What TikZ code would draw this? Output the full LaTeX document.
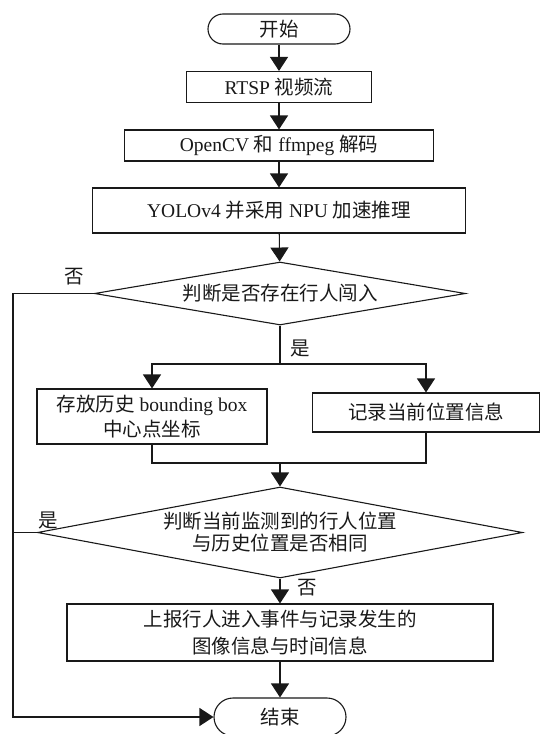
\documentclass[tikz,border=0pt]{standalone}
\usepackage{fontspec}
\setmainfont{Liberation Serif}
\newfontfamily\cjk{Noto Sans CJK SC}
\newcommand\zhtxt[1]{{\cjk #1}}
\usetikzlibrary{arrows.meta,shapes.geometric}
\tikzset{
  lin/.style={line width=1.1pt, draw=black!90},
  arr/.style={lin, -{Triangle[length=14pt,width=18pt]}},
  txt/.style={font=\fontsize{19.5pt}{25pt}\selectfont, text=black!90},
  procbox/.style={txt, draw=black!90, line width=1.1pt, inner sep=0pt, align=center},
  termbox/.style={procbox, rounded corners=#1},
  decision/.style={txt, draw=black!90, line width=1.1pt, diamond, inner sep=0pt, align=center},
  lbl/.style={txt, inner sep=0pt}
}
\begin{document}
\begin{tikzpicture}[x=1pt,y=-1pt]
\useasboundingbox (0,0) rectangle (541,734);
% nodes
\node[termbox=15pt, minimum width=142pt, minimum height=30pt] (start) at (279,29) {\zhtxt{开始}};
\node[procbox, minimum width=185pt, minimum height=31pt] (rtsp) at (279,87) {RTSP \zhtxt{视频流}};
\node[procbox, minimum width=309pt, minimum height=31pt] (dec) at (279,145.5) {OpenCV \zhtxt{和} ffmpeg \zhtxt{解码}};
\node[procbox, minimum width=373pt, minimum height=45pt] (yolo) at (279,210.5) {YOLOv4 \zhtxt{并采用} NPU \zhtxt{加速推理}};
\node[decision, shape aspect=5.9, minimum width=371pt, minimum height=63pt] (d1) at (280,293.5) {\zhtxt{判断是否存在行人闯入}};
\node[procbox, minimum width=230pt, minimum height=55pt] (hist) at (152,416.5) {\zhtxt{存放历史} bounding box\\\zhtxt{中心点坐标}};
\node[procbox, minimum width=227pt, minimum height=39pt] (cur) at (426,412.5) {\zhtxt{记录当前位置信息}};
\node[decision, shape aspect=5.33, minimum width=485pt, minimum height=91pt] (d2) at (280,532.5) {\zhtxt{判断当前监测到的行人位置}\\[-3pt]\zhtxt{与历史位置是否相同}};
\node[procbox, minimum width=426pt, minimum height=57pt] (rep) at (280,632.5) {\zhtxt{上报行人进入事件与记录发生的}\\[2pt]\zhtxt{图像信息与时间信息}};
\node[termbox=19pt, minimum width=132pt, minimum height=38pt] (end) at (280,717) {\zhtxt{结束}};
% labels
\node[lbl] (no1) at (74,277) {\zhtxt{否}};
\node[lbl] (yes1) at (300,348) {\zhtxt{是}};
\node[lbl] (yes2) at (48,520) {\zhtxt{是}};
\node[lbl] (no2) at (307,588) {\zhtxt{否}};
% helper coordinates
\coordinate (brM) at (280,364);
\coordinate (jn) at (280,463);
\coordinate (lx) at (13,293.5);
% connectors
\draw[arr] (start) -- (rtsp);
\draw[arr] (rtsp) -- (dec);
\draw[arr] (dec) -- (yolo);
\draw[arr] (yolo) -- (d1);
\draw[lin] (d1.south) -- (brM);
\draw[arr] (brM) -| (hist.north);
\draw[arr] (brM) -| (cur.north);
\draw[lin] (hist.south) |- (jn) -| (cur.south);
\draw[arr] (jn) -- (d2.north);
\draw[arr] (d2.south) -- (rep.north);
\draw[arr] (rep.south) -- (end.north);
\draw[arr] (d1.west) -- (lx) |- (end.west);
\draw[lin] (d2.west) -- (d2.west -| lx);
\end{tikzpicture}
\end{document}
